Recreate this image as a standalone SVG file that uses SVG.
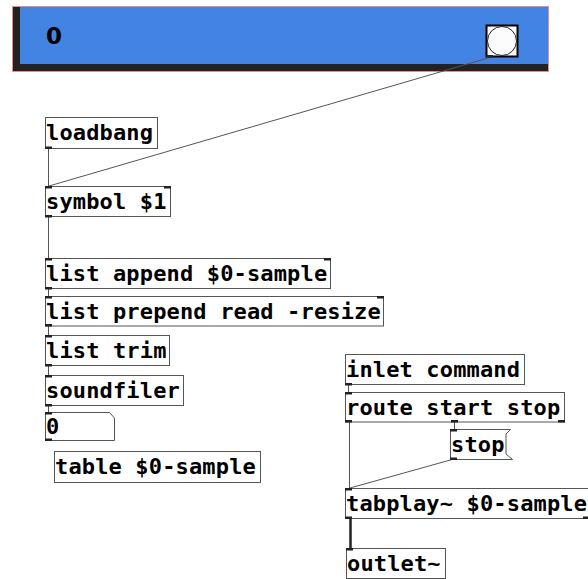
<svg xmlns="http://www.w3.org/2000/svg" width="588" height="579" viewBox="0 0 588 579">
<style>
.box{fill:#fff;stroke:#555;stroke-width:1}
.t{font-family:"DejaVu Sans Mono","Liberation Mono",monospace;font-weight:bold;font-size:22px;letter-spacing:0.15px;fill:#000}
.io{fill:#222}
.c{stroke:#555;stroke-width:1;fill:none}
.sig{stroke:#222;stroke-width:2.5;fill:none}
</style>
<rect width="588" height="579" fill="#fff"/>
<g id="canvas">
<rect x="12.5" y="6.5" width="536" height="65" fill="#222" stroke="#f08a8a" stroke-width="1"/>
<rect x="20" y="7" width="528" height="57" fill="#4384e2"/>
<text x="46" y="44" font-family="DejaVu Sans, sans-serif" font-weight="bold" font-size="23" fill="#000">0</text>
</g>
<g id="bang">
<rect x="486.5" y="25.5" width="31" height="31" fill="#fcfcfc" stroke="#000" stroke-width="2"/>
<circle cx="502" cy="41" r="14.5" fill="#fcfcfc" stroke="#222" stroke-width="1"/>
<rect class="io" x="486" y="55" width="7" height="2.5"/>
</g>
<g id="connectors">
<line class="c" x1="488" y1="58" x2="49" y2="186"/>
<line class="c" x1="48.5" y1="148" x2="48.5" y2="186"/>
<line class="c" x1="48.5" y1="217" x2="48.5" y2="258"/>
<line class="c" x1="48.5" y1="289" x2="48.5" y2="296"/>
<line class="c" x1="48.5" y1="326" x2="48.5" y2="335"/>
<line class="c" x1="48.5" y1="366" x2="48.5" y2="375"/>
<line class="c" x1="48.5" y1="406" x2="48.5" y2="412"/>
<line class="c" x1="348.5" y1="385" x2="348.5" y2="392"/>
<line class="c" x1="349.5" y1="422" x2="349.5" y2="488"/>
<line class="c" x1="454.5" y1="422" x2="454.5" y2="429"/>
<line class="c" x1="454" y1="459" x2="350" y2="488"/>
<line class="sig" x1="350.5" y1="518" x2="350.5" y2="548"/>
</g>
<g id="loadbang">
<rect class="box" x="45.5" y="117.5" width="112" height="31"/>
<text class="t" x="46" y="140">loadbang</text>
<rect class="io" x="45" y="146.5" width="7" height="2.5"/>
</g>
<g id="symbol">
<rect class="box" x="45.5" y="186.5" width="125" height="30"/>
<text class="t" x="46" y="209">symbol $1</text>
<rect class="io" x="45" y="186" width="7" height="2.5"/><rect class="io" x="164" y="186" width="7" height="2.5"/>
<rect class="io" x="45" y="215" width="7" height="2.5"/>
</g>
<g id="listappend">
<rect class="box" x="45.5" y="258.5" width="285" height="30"/>
<text class="t" x="46" y="281">list append $0-sample</text>
<rect class="io" x="45" y="258" width="7" height="2.5"/><rect class="io" x="324" y="258" width="7" height="2.5"/>
<rect class="io" x="45" y="287" width="7" height="2.5"/>
</g>
<g id="listprepend">
<rect class="box" x="45.5" y="296.5" width="338" height="29.5"/>
<text class="t" x="46" y="319">list prepend read -resize</text>
<rect class="io" x="45" y="296" width="7" height="2.5"/><rect class="io" x="377" y="296" width="7" height="2.5"/>
<rect class="io" x="45" y="324" width="7" height="2.5"/>
</g>
<g id="listtrim">
<rect class="box" x="45.5" y="335.5" width="124" height="30"/>
<text class="t" x="46" y="358">list trim</text>
<rect class="io" x="45" y="335" width="7" height="2.5"/>
<rect class="io" x="45" y="364" width="7" height="2.5"/>
</g>
<g id="soundfiler">
<rect class="box" x="45.5" y="375.5" width="138" height="30"/>
<text class="t" x="46" y="398">soundfiler</text>
<rect class="io" x="45" y="375" width="7" height="2.5"/>
<rect class="io" x="45" y="404" width="7" height="2.5"/>
</g>
<g id="number">
<polygon points="45.5,412.5 109.5,412.5 114.5,418 114.5,440.5 45.5,440.5" fill="#fff" stroke="#555"/>
<text class="t" x="46" y="434">0</text>
<rect class="io" x="45" y="412" width="7" height="2.5"/>
<rect class="io" x="45" y="438.5" width="7" height="2.5"/>
</g>
<g id="table">
<rect class="box" x="54.5" y="451.5" width="206" height="31"/>
<text class="t" x="55" y="474">table $0-sample</text>
</g>
<g id="inlet">
<rect class="box" x="345.5" y="354.5" width="179" height="30"/>
<text class="t" x="346" y="377">inlet command</text>
<rect class="io" x="345" y="383" width="7" height="2.5"/>
</g>
<g id="route">
<rect class="box" x="345.5" y="392.5" width="219" height="29.5"/>
<text class="t" x="346" y="415">route start stop</text>
<rect class="io" x="345" y="392" width="7" height="2.5"/>
<rect class="io" x="345" y="420" width="7" height="2.5"/><rect class="io" x="451" y="420" width="7" height="2.5"/><rect class="io" x="558" y="420" width="7" height="2.5"/>
</g>
<g id="stop">
<polygon points="450.5,429.5 510.5,429.5 506,434 506,454 512.5,459.5 450.5,459.5" fill="#fff" stroke="#555"/>
<text class="t" x="451" y="452">stop</text>
<rect class="io" x="450" y="429" width="7" height="2.5"/>
<rect class="io" x="450" y="457.5" width="7" height="2.5"/>
</g>
<g id="tabplay">
<rect class="box" x="345.5" y="488.5" width="245" height="30"/>
<text class="t" x="346" y="511">tabplay~ $0-sample</text>
<rect class="io" x="345" y="488" width="7" height="2.5"/>
<rect class="io" x="345" y="516.5" width="7" height="2.5"/><rect class="io" x="583" y="516.5" width="7" height="2.5"/>
</g>
<g id="outlet">
<rect class="box" x="346.5" y="548.5" width="99" height="30"/>
<text class="t" x="347" y="571">outlet~</text>
<rect class="io" x="346" y="548" width="7" height="2.5"/>
</g>
</svg>
